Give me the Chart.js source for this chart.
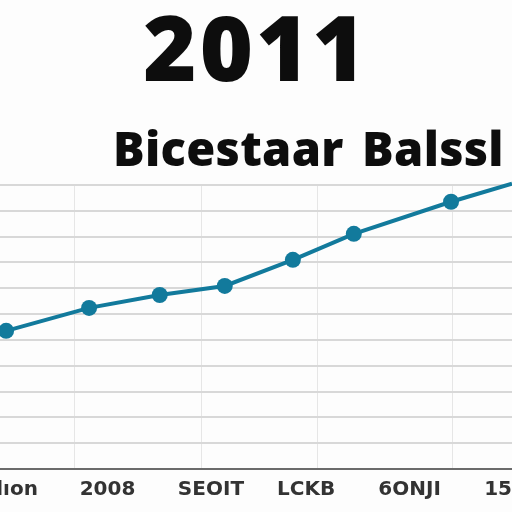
<!DOCTYPE html>
<html>
<head>
<meta charset="utf-8">
<script src="https://cdn.jsdelivr.net/npm/chart.js@4"></script>
<style>
  html, body { margin: 0; padding: 0; background: #fdfdfd; }
  #wrap { position: relative; width: 512px; height: 512px; overflow: hidden; }
  #wrap canvas { position: absolute; left: 0; top: 0; }
  .ttl { position: absolute; white-space: nowrap; color: #0d0d0d; font-family: 'Open Sans', sans-serif; font-weight: 800; }
  #t1 { left: 0; width: 512px; text-align: center; top: 1px; font-size: 91px; line-height: 91px; letter-spacing: 3px; }
  #t2 { left: 113px; top: 125px; font-size: 47px; line-height: 47px; word-spacing: 6px; letter-spacing: 0.3px; }
</style>
</head>
<body>
<div id="wrap">
  <canvas id="c" width="512" height="512"></canvas>
  <div class="ttl" id="t1">2011</div>
  <div class="ttl" id="t2">Bicestaar Balssl</div>
</div>
<script>
'use strict';

// ── data ──
var xValues   = [0.12, 1.74, 3.12, 4.39, 5.72, 6.91, 8.81, 10.0];
var yValues   = [5.35, 6.24, 6.74, 7.09, 8.10, 9.11, 10.35, 11.05];
var tickLabels = ['ıılıon', '2008', 'SEOIT', 'LCKB', '6ONJI', '15(ə'];
var tickPos    = [0.2, 2.1, 4.12, 5.98, 8.0, 9.95];
var gridPos    = [1.45, 3.93, 6.2, 8.83];

var lineColor = '#127a9c';

function noPad(s){ s.paddingLeft = 0; s.paddingRight = 0; s.paddingTop = 0; s.paddingBottom = 0; }

new Chart(document.getElementById('c'), {
  type: 'line',
  data: {
    datasets: [{
      data: xValues.map(function(x, i){ return { x: x, y: yValues[i] }; }),
      borderColor: lineColor,
      backgroundColor: lineColor,
      borderWidth: 4,
      pointRadius: [8, 8, 8, 8, 8, 8, 8, 0],
      pointBorderWidth: 0,
      tension: 0,
      clip: false
    }]
  },
  options: {
    responsive: false,
    animation: false,
    events: [],
    layout: { autoPadding: false, padding: { top: 185, left: 0, right: 0, bottom: 0 } },
    plugins: { legend: { display: false }, tooltip: { enabled: false }, title: { display: false } },
    scales: {
      x: {
        type: 'linear', position: 'bottom', min: 0, max: 10,
        grid: { display: false, drawTicks: false },
        border: { display: true, color: '#6b6b6b', width: 2 },
        afterBuildTicks: function(s){ s.ticks = tickPos.map(function(v){ return { value: v }; }); },
        afterFit: function(s){ s.height = 43; noPad(s); },
        ticks: {
          autoSkip: false, maxRotation: 0, padding: 9, color: '#333',
          font: { family: "'DejaVu Sans', sans-serif", size: 20, weight: 'bold' },
          callback: function(v, i){ return tickLabels[i]; }
        }
      },
      xg: {
        type: 'linear', position: 'bottom', min: 0, max: 10,
        grid: { color: '#e6e6e6', lineWidth: 1, drawTicks: false },
        border: { display: false },
        afterBuildTicks: function(s){ s.ticks = gridPos.map(function(v){ return { value: v }; }); },
        afterFit: function(s){ s.height = 0; noPad(s); },
        ticks: { display: false }
      },
      y: {
        min: 0, max: 11,
        grid: { color: '#d8d8d8', lineWidth: 2, drawTicks: false },
        border: { display: false },
        afterFit: function(s){ s.width = 0; noPad(s); },
        ticks: { display: false, stepSize: 1 }
      }
    }
  }
});
</script>
</body>
</html>
